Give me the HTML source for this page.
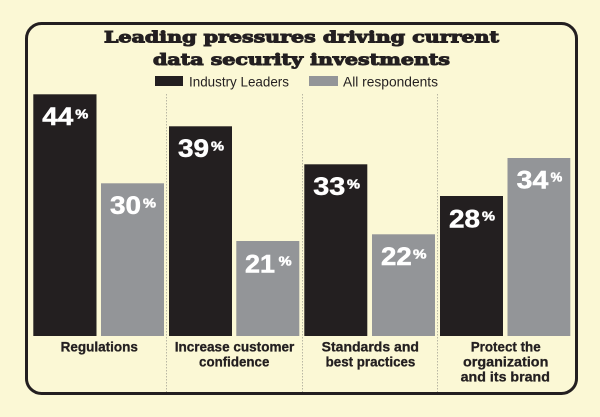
<!DOCTYPE html>
<html><head><meta charset="utf-8"><style>
html,body{margin:0;padding:0;background:#fbf8d5;}
svg{display:block;}
</style></head><body>
<svg width="600" height="417" viewBox="0 0 600 417" xmlns="http://www.w3.org/2000/svg">
<rect x="0" y="0" width="600" height="417" fill="#fbf8d5"/>
<rect x="26.5" y="23.5" width="550" height="370" rx="15" ry="15" fill="#fbf8d5" stroke="#231f20" stroke-width="3"/>
<!-- dividers -->
<g stroke="#b9b7a4" stroke-width="1" stroke-dasharray="1.5,1.5">
<line x1="166.5" y1="94" x2="166.5" y2="392"/>
<line x1="302.5" y1="94" x2="302.5" y2="392"/>
<line x1="437.5" y1="94" x2="437.5" y2="392"/>
</g>
<!-- title -->
<g font-family="'DejaVu Serif','Liberation Serif',serif" font-weight="bold" fill="#231f20" stroke="#231f20" stroke-width="1" text-anchor="middle">
<text x="301.5" y="42.3" font-size="15.8" textLength="395" lengthAdjust="spacingAndGlyphs">Leading pressures driving current</text>
<text x="301.5" y="65" font-size="15.8" textLength="297" lengthAdjust="spacingAndGlyphs">data security investments</text>
</g>
<!-- legend -->
<rect x="155" y="76" width="28" height="10" fill="#231f20"/>
<rect x="309" y="76" width="29" height="10" fill="#939598"/>
<g font-family="'Liberation Sans',sans-serif" font-size="14" fill="#231f20">
<text x="189" y="86.5" textLength="100" lengthAdjust="spacingAndGlyphs">Industry Leaders</text>
<text x="343" y="86.5" textLength="95" lengthAdjust="spacingAndGlyphs">All respondents</text>
</g>
<!-- bars -->
<g>
<rect x="33.3" y="94.3" width="63.2" height="241.7" fill="#231f20"/>
<rect x="101" y="183.3" width="63" height="152.7" fill="#939598"/>
<rect x="169" y="126.3" width="63" height="209.7" fill="#231f20"/>
<rect x="236.3" y="241" width="63" height="95" fill="#939598"/>
<rect x="304.3" y="164.3" width="63" height="171.7" fill="#231f20"/>
<rect x="372" y="234.3" width="63" height="101.7" fill="#939598"/>
<rect x="440" y="196" width="63" height="140" fill="#231f20"/>
<rect x="507.5" y="158" width="62.8" height="178" fill="#939598"/>
</g>
<!-- values -->
<g font-family="'Liberation Sans',sans-serif" font-weight="bold" fill="#ffffff" stroke="#ffffff" stroke-width="0.5">
<text x="42.3" y="125" font-size="25" textLength="31" lengthAdjust="spacingAndGlyphs">44</text>
<text x="75.3" y="118.3" font-size="12.5" textLength="13" lengthAdjust="spacingAndGlyphs">%</text>
<text x="110" y="214" font-size="25" textLength="31" lengthAdjust="spacingAndGlyphs">30</text>
<text x="143" y="207.3" font-size="12.5" textLength="13" lengthAdjust="spacingAndGlyphs">%</text>
<text x="178" y="157" font-size="25" textLength="31" lengthAdjust="spacingAndGlyphs">39</text>
<text x="211" y="150.3" font-size="12.5" textLength="13" lengthAdjust="spacingAndGlyphs">%</text>
<text x="245" y="272.3" font-size="25" textLength="30" lengthAdjust="spacingAndGlyphs">21</text>
<text x="278.7" y="265.6" font-size="12.5" textLength="13" lengthAdjust="spacingAndGlyphs">%</text>
<text x="313.3" y="195" font-size="25" textLength="32" lengthAdjust="spacingAndGlyphs">33</text>
<text x="347" y="188.3" font-size="12.5" textLength="13" lengthAdjust="spacingAndGlyphs">%</text>
<text x="381" y="265" font-size="25" textLength="30.7" lengthAdjust="spacingAndGlyphs">22</text>
<text x="413" y="258.3" font-size="12.5" textLength="13.5" lengthAdjust="spacingAndGlyphs">%</text>
<text x="449" y="227.3" font-size="25" textLength="31" lengthAdjust="spacingAndGlyphs">28</text>
<text x="482" y="220.6" font-size="12.5" textLength="13" lengthAdjust="spacingAndGlyphs">%</text>
<text x="516.7" y="188.3" font-size="25" textLength="31.6" lengthAdjust="spacingAndGlyphs">34</text>
<text x="550.7" y="181.6" font-size="12.5" textLength="11.6" lengthAdjust="spacingAndGlyphs">%</text>
</g>
<!-- category labels -->
<g font-family="'Liberation Sans',sans-serif" font-weight="bold" font-size="14" fill="#231f20" stroke="#231f20" stroke-width="0.3" text-anchor="middle">
<text x="99.3" y="351.7" textLength="77.3" lengthAdjust="spacingAndGlyphs">Regulations</text>
<text x="234.5" y="351.7" textLength="119.6" lengthAdjust="spacingAndGlyphs">Increase customer</text>
<text x="234.2" y="366.7" textLength="70.3" lengthAdjust="spacingAndGlyphs">confidence</text>
<text x="370.3" y="351.7" textLength="97.3" lengthAdjust="spacingAndGlyphs">Standards and</text>
<text x="370.5" y="366.7" textLength="89.7" lengthAdjust="spacingAndGlyphs">best practices</text>
<text x="505.7" y="351.7" textLength="70" lengthAdjust="spacingAndGlyphs">Protect the</text>
<text x="505.7" y="366.7" textLength="85.3" lengthAdjust="spacingAndGlyphs">organization</text>
<text x="505.3" y="381.7" textLength="89.3" lengthAdjust="spacingAndGlyphs">and its brand</text>
</g>
</svg>
</body></html>
